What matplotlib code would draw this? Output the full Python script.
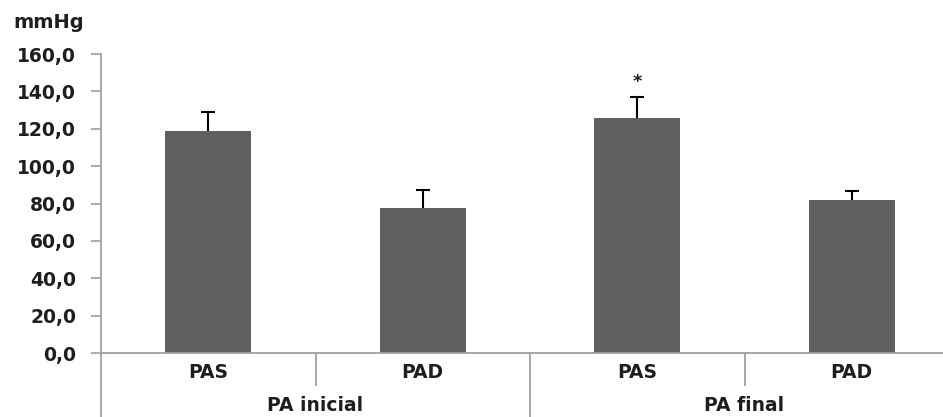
import matplotlib
matplotlib.use("Agg")
import matplotlib.pyplot as plt
import numpy as np

# valores (mmHg)
bar_labels = ["PAS", "PAD", "PAS", "PAD"]
group_labels = ["PA inicial", "PA final"]
means = [119.0, 77.6, 125.6, 81.7]
sds = [10.0, 9.6, 11.5, 5.0]
star_bar = 2
yticks = [0, 20, 40, 60, 80, 100, 120, 140, 160]

plt.rcParams['font.family'] = ['DejaVu Sans']
plt.rcParams['font.weight'] = 'bold'

axis_gray = '#a0a0a0'
bar_color = '#5f5f5f'
txt = '#1e1e1e'

my_dpi = 100
fig = plt.figure(figsize=(943/my_dpi, 417/my_dpi), dpi=my_dpi)
ax = fig.add_axes([101/943, 64/417, 858/943, 299/417])

x = np.arange(len(means))
means = np.array(means)
tops = means + np.array(sds)
ax.bar(x, means, width=0.4, color=bar_color, zorder=2)
# so a parte superior do desvio padrao
ax.vlines(x, means, tops, color='black', lw=1.5, zorder=3)
ax.hlines(tops, x - 0.033, x + 0.033, color='black', lw=1.5, zorder=3)
ax.text(star_bar, tops[star_bar] + 3, '*', ha='center', va='bottom',
        fontsize=13, color=txt)

ax.set_xlim(-0.5, 3.5)
ax.set_ylim(0, 160)
ax.set_yticks(yticks)
ax.set_yticklabels([f"{v:.1f}".replace('.', ',') for v in yticks], fontsize=13.5,
                   color=txt, fontweight='bold')
ax.tick_params(axis='y', direction='out', length=7, width=1.2, color=axis_gray, pad=11)
ax.set_xticks([])
for s in ['top', 'right']:
    ax.spines[s].set_visible(False)
for s in ['left', 'bottom']:
    ax.spines[s].set_color(axis_gray)
    ax.spines[s].set_linewidth(1.3)

# linhas de separacao das categorias
ax.plot([-0.5, -0.5], [0, -36], color=axis_gray, lw=1.3, clip_on=False)
ax.plot([1.5, 1.5], [0, -36], color=axis_gray, lw=1.3, clip_on=False)
ax.plot([0.5, 0.5], [0, -17], color=axis_gray, lw=1.3, clip_on=False)
ax.plot([2.5, 2.5], [0, -17], color=axis_gray, lw=1.3, clip_on=False)

for xi, lab in zip(x, bar_labels):
    ax.text(xi, -10.7, lab, ha='center', va='center', fontsize=13.5, color=txt,
            fontweight='bold', clip_on=False)
for gi, lab in enumerate(group_labels):
    ax.text(gi * 2 + 0.5, -28, lab, ha='center', va='center', fontsize=13.5, color=txt,
            fontweight='bold', clip_on=False)

fig.text(13/943, 1 - 22/417, 'mmHg', ha='left', va='center', fontsize=14,
         color=txt, fontweight='bold')

fig.savefig('out.png', dpi=my_dpi)
